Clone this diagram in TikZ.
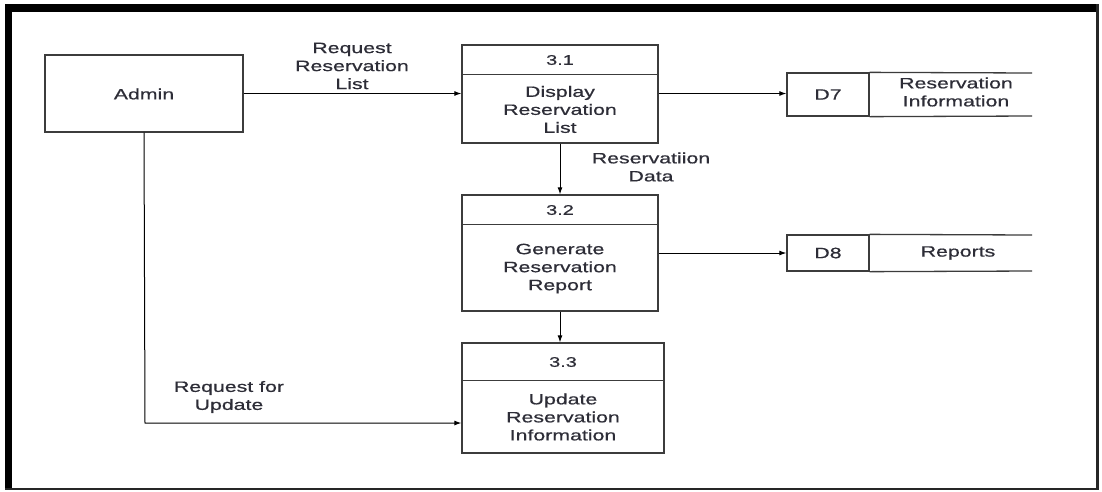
\documentclass[tikz,border=0pt]{standalone}
\usepackage{fontspec}
\setmainfont{Liberation Sans}[FakeStretch=1.42,FakeBold=0.6]
\usetikzlibrary{arrows.meta}
\definecolor{ink}{RGB}{45,45,55}
\definecolor{edge}{RGB}{60,60,60}
\tikzset{
  box/.style={draw=edge, line width=1.3pt, rectangle, inner sep=0pt},
  txt/.style={text=ink, font=\fontsize{15}{18}\selectfont, align=center, inner sep=0pt},
  num/.style={text=ink, font=\fontsize{14}{17}\selectfont, inner sep=0pt},
  flow/.style={draw=black, line width=1pt, -{Latex[length=7pt,width=5pt]}},
  storeline/.style={draw=edge, line width=1.3pt},
}
\begin{document}
\begin{tikzpicture}[x=1pt,y=-1pt]
  \useasboundingbox (0,0) rectangle (1102,491);
  % frame
  \fill[white] (0,0) rectangle (1102,491);
  \fill[black] (5,4) rectangle (1099,12);
  \fill[black] (5,4) rectangle (12,490);
  \fill[black!85] (1096,4) rectangle (1099,490);
  \fill[black!85] (5,487.5) rectangle (1099,490);

  % external entity
  \node[box, minimum width=198pt, minimum height=77pt] (admin) at (144,93.5) {};
  \node[txt] (admintxt) at (144,94) {Admin};

  % process 3.1
  \node[box, minimum width=196pt, minimum height=98pt] (p1) at (560,94) {};
  \draw[storeline] ([yshift=-30pt]p1.north west) -- ([yshift=-30pt]p1.north east);
  \node[num] (p1n) at (560,60) {3.1};
  \node[txt] (p1t) at (560,109.5) {Display\\Reservation\\List};

  % process 3.2
  \node[box, minimum width=196pt, minimum height=116pt] (p2) at (560,253) {};
  \draw[storeline] ([yshift=-30pt]p2.north west) -- ([yshift=-30pt]p2.north east);
  \node[num] (p2n) at (560,210) {3.2};
  \node[txt] (p2t) at (560,268.5) {Generate\\Reservation\\Report};

  % process 3.3
  \node[box, minimum width=202pt, minimum height=110pt] (p3) at (563,398) {};
  \draw[storeline] ([yshift=-38pt]p3.north west) -- ([yshift=-38pt]p3.north east);
  \node[num] (p3n) at (563,362) {3.3};
  \node[txt] (p3t) at (563,417) {Update\\Reservation\\Information};

  % data store D7
  \node[box, minimum width=82pt, minimum height=43pt] (d7) at (828,94.5) {};
  \node[txt] (d7id) at (828,94.5) {D7};
  \coordinate (d7te) at (1032,73);
  \coordinate (d7be) at (1032,116);
  \draw[storeline] (d7.north east) -- (d7te);
  \draw[storeline] (d7.south east) -- (d7be);
  \node[txt] (d7t) at (956,92) {Reservation\\Information};

  % data store D8
  \node[box, minimum width=82pt, minimum height=36pt] (d8) at (828,253) {};
  \node[txt] (d8id) at (828,253) {D8};
  \coordinate (d8te) at (1032,235);
  \coordinate (d8be) at (1032,271);
  \draw[storeline] (d8.north east) -- (d8te);
  \draw[storeline] (d8.south east) -- (d8be);
  \node[txt] (d8t) at (958,253) {Reports};

  % data flows
  \draw[flow] (admin.east) -- (p1.west |- admin.east);
  \draw[flow] (p1.east |- admin.east) -- (d7.west |- admin.east);
  \draw[flow] (p1.south) -- (p2.north);
  \draw[flow] (p2.east |- d8.west) -- (d8.west);
  \draw[flow] (p2.south) -- (p3.north -| p2.south);
  \coordinate (bend) at (145,423);
  \draw[flow] (admin.south) -- (bend) -- (p3.west |- bend);

  % flow labels
  \node[txt] (l1) at (352,66) {Request\\Reservation\\List};
  \node[txt] (l2) at (651,167) {Reservatiion\\Data};
  \node[txt] (l3) at (229,397) {Request for\\Update};
\end{tikzpicture}
\end{document}
